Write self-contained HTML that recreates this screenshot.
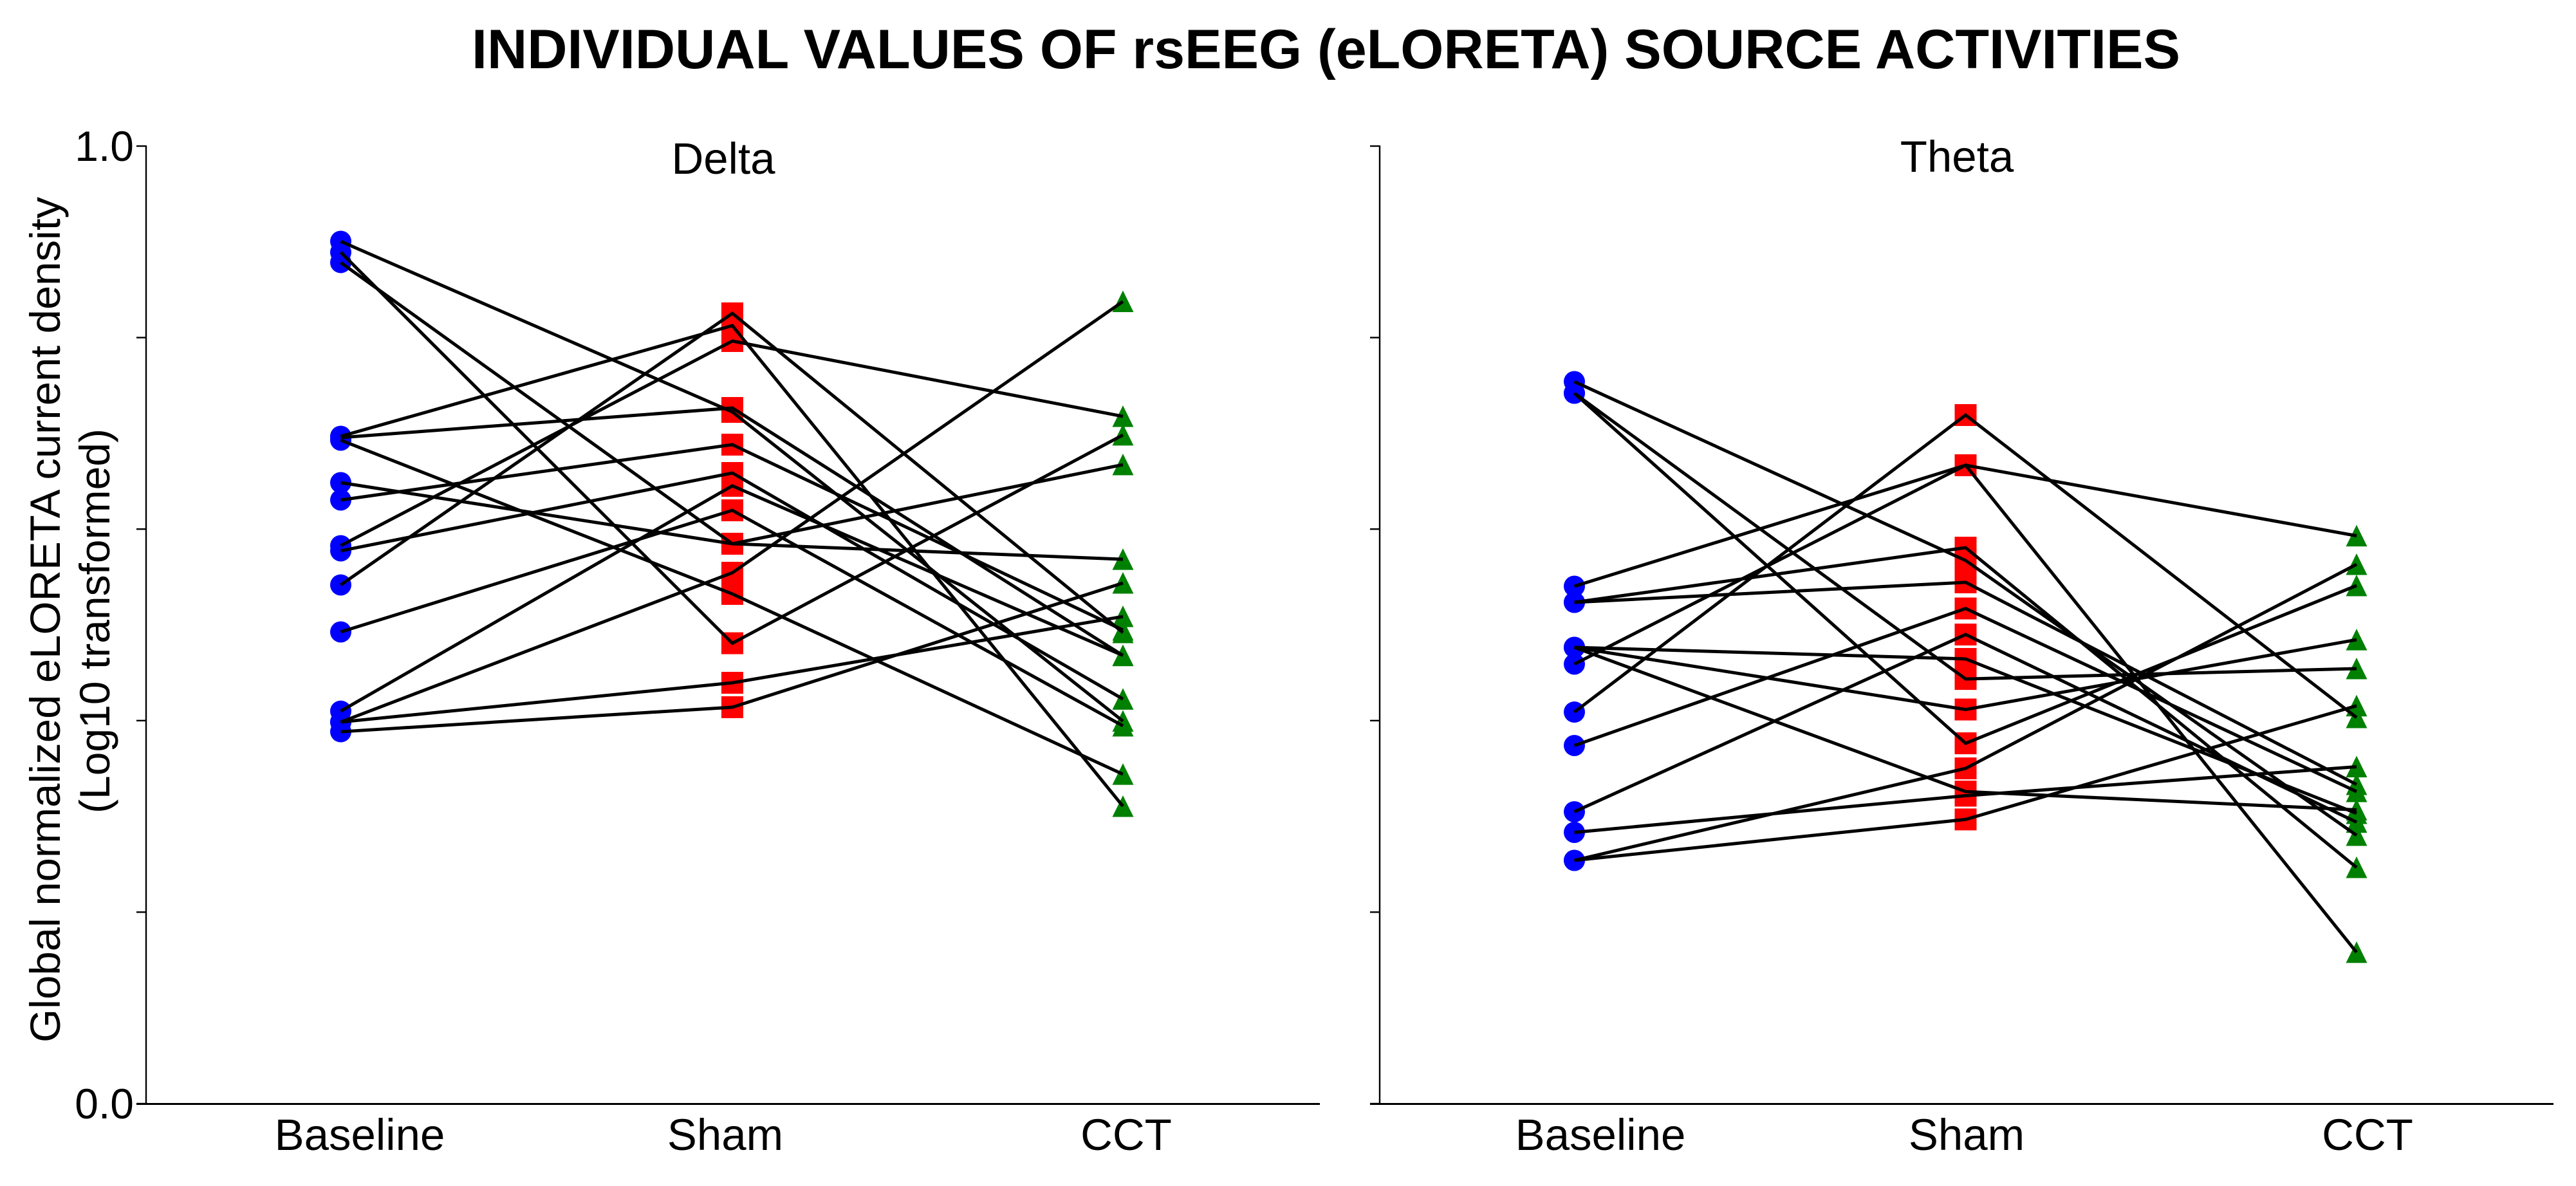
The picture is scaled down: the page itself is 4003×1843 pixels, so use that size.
<!DOCTYPE html>
<html lang="en">
<head>
<meta charset="utf-8">
<title>Individual values of rsEEG (eLORETA) source activities</title>
<style>
  html, body { margin: 0; padding: 0; background: #ffffff; }
  svg { display: block; }
  text { font-family: "Liberation Sans", Arial, sans-serif; fill: #000000; }
</style>
</head>
<body>
<svg id="chart" xmlns="http://www.w3.org/2000/svg" width="4003" height="1843" viewBox="0 0 4003 1843">
  <rect x="0" y="0" width="4003" height="1843" fill="#ffffff"/>
  <text x="733" y="106" font-size="86" font-weight="700" textLength="2655" lengthAdjust="spacingAndGlyphs">INDIVIDUAL VALUES OF rsEEG (eLORETA) SOURCE ACTIVITIES</text>
  <text transform="translate(93 963) rotate(-90)" text-anchor="middle" font-size="66" textLength="1314" lengthAdjust="spacingAndGlyphs">Global normalized eLORETA current density</text>
  <text transform="translate(170 965) rotate(-90)" text-anchor="middle" font-size="66" textLength="598" lengthAdjust="spacingAndGlyphs">(Log10 transformed)</text>
  <g id="panels"></g>
</svg>
<script>
const categories = ['Baseline', 'Sham', 'CCT'];
const yTickValues = [0, 0.2, 0.4, 0.6, 0.8, 1.0];
const yTickLabels = ['0.0', '', '', '', '', '1.0'];

const deltaBaseline = [0.9005, 0.8891, 0.8784, 0.6969, 0.6956, 0.6929, 0.6485, 0.6304, 0.5827, 0.5773, 0.5417, 0.4926, 0.4099, 0.3985, 0.3985, 0.3884];
const deltaSham     = [0.7224, 0.4808, 0.5847, 0.8125, 0.7265, 0.5323, 0.5847, 0.6882, 0.7964, 0.6586, 0.8253, 0.6196, 0.6452, 0.5544, 0.4395, 0.4140];
const deltaCCT      = [0.3995, 0.6983, 0.6673, 0.3105, 0.4680, 0.3440, 0.5685, 0.4946, 0.7177, 0.4225, 0.4919, 0.3945, 0.4680, 0.8377, 0.5087, 0.5437];

const thetaBaseline = [0.7540, 0.7419, 0.7419, 0.5403, 0.5235, 0.5235, 0.4765, 0.4765, 0.4765, 0.4590, 0.4089, 0.3740, 0.3048, 0.2833, 0.2540, 0.2540];
const thetaSham     = [0.5672, 0.4435, 0.3763, 0.6667, 0.5806, 0.5444, 0.4644, 0.4116, 0.3259, 0.6667, 0.7191, 0.5171, 0.4899, 0.3216, 0.3501, 0.2968];
const thetaCCT      = [0.2802, 0.4543, 0.5410, 0.5930, 0.2466, 0.3333, 0.3031, 0.4845, 0.3068, 0.1580, 0.4032, 0.3259, 0.2939, 0.3518, 0.5632, 0.4155];

const SVG_NS = 'http://www.w3.org/2000/svg';
const root = document.getElementById('panels');
const Y_TOP = 227;
const Y_BOTTOM = 1715;

function yScale(v) {
  return Y_BOTTOM - v * (Y_BOTTOM - Y_TOP);
}

function make(tag, attrs, parent) {
  const el = document.createElementNS(SVG_NS, tag);
  Object.keys(attrs).forEach(function (k) { el.setAttribute(k, attrs[k]); });
  parent.appendChild(el);
  return el;
}

function drawPanel(key, title, series, layout) {
  const panel = make('g', {}, root);
  
  

  function xScale(i) {
    return layout.pointX[i];
  }

  const yAxis = make('line', { x1: layout.axisX, x2: layout.axisX, y1: Y_TOP - 1, y2: Y_BOTTOM + 1, stroke: '#000', 'stroke-width': 2.4 }, panel);
  
  

  const xAxis = make('line', { x1: layout.axisX - 15, x2: layout.axisEnd, y1: Y_BOTTOM + 0.5, y2: Y_BOTTOM + 0.5, stroke: '#000', 'stroke-width': 3 }, panel);
  
  

  yTickValues.forEach(function (v, i) {
    const tick = make('line', { x1: layout.axisX - 15, x2: layout.axisX, y1: yScale(v), y2: yScale(v), stroke: '#000', 'stroke-width': 2.4 }, panel);
    
    
    if (layout.showTickLabels && yTickLabels[i]) {
      const lab = make('text', { x: layout.axisX - 19, y: yScale(v) + 23, 'text-anchor': 'end', 'font-size': 66 }, panel);
      lab.textContent = yTickLabels[i];
      
      
    }
  });

  categories.forEach(function (c, i) {
    const lab = make('text', { x: layout.labelX[i], y: 1787, 'text-anchor': 'middle', 'font-size': 69 }, panel);
    lab.textContent = c;
    
    
  });

  const head = make('text', { x: layout.titleX, y: layout.titleY, 'text-anchor': 'middle', 'font-size': 69 }, panel);
  head.textContent = title;
  
  

  series[0].forEach(function (v) {
    const dot = make('circle', { cx: xScale(0), cy: yScale(v), r: 16.5, fill: '#0000ff' }, panel);
    
    
  });
  series[1].forEach(function (v) {
    const sq = make('rect', { x: xScale(1) - 17, y: yScale(v) - 17, width: 34, height: 34, fill: '#ff0000' }, panel);
    
    
  });
  series[2].forEach(function (v) {
    const cx = xScale(2);
    const cy = yScale(v);
    const pts = cx + ',' + (cy - 17) + ' ' + (cx + 16.5) + ',' + (cy + 16.5) + ' ' + (cx - 16.5) + ',' + (cy + 16.5);
    const tri = make('polygon', { points: pts, fill: '#008000' }, panel);
    
    
  });

  series[0].forEach(function (_, s) {
    const pts = series.map(function (arr, i) { return xScale(i) + ',' + yScale(arr[s]); }).join(' ');
    const line = make('polyline', { points: pts, fill: 'none', stroke: '#000', 'stroke-width': 5, 'stroke-linejoin': 'miter' }, panel);
    
    
  });
}

drawPanel('delta', 'Delta', [deltaBaseline, deltaSham, deltaCCT], {
  axisX: 227, axisEnd: 2051, pointX: [529.5, 1138, 1745], labelX: [559, 1127, 1750],
  titleX: 1124, titleY: 270, showTickLabels: true
});
drawPanel('theta', 'Theta', [thetaBaseline, thetaSham, thetaCCT], {
  axisX: 2144, axisEnd: 3968, pointX: [2446.5, 3054.5, 3662], labelX: [2487, 3056, 3679],
  titleX: 3041, titleY: 267, showTickLabels: false
});
</script>
</body>
</html>
